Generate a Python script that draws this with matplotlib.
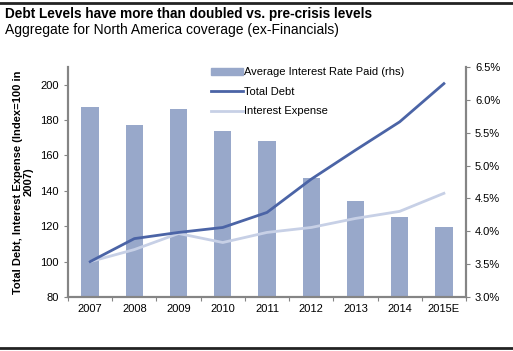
import numpy as np
import matplotlib.pyplot as plt
from matplotlib.lines import Line2D
from matplotlib.ticker import FuncFormatter

plt.rcParams['font.family'] = ['Liberation Sans', 'DejaVu Sans']

# data
years = ['2007', '2008', '2009', '2010', '2011', '2012', '2013', '2014', '2015E']
avg_rate = [5.89, 5.62, 5.86, 5.53, 5.37, 4.81, 4.46, 4.22, 4.07]   # % (rhs)
total_debt = [100, 113, 116.5, 119.3, 127.8, 146.6, 163, 179, 200.6]
interest_exp = [100, 106.8, 115.9, 110.8, 116.5, 119.3, 124.4, 128.4, 138.6]

bar_col = '#98A8CA'
debt_col = '#4B64A6'
int_col = '#C7D0E6'
axis_col = '#858585'

fig = plt.figure(figsize=(5.13, 3.51), dpi=100)
ax = fig.add_axes([68/513, 1 - 297/351, 398/513, 230/351])
ax2 = ax.twinx()

x = np.arange(len(years))

# bars on the right axis
ax2.bar(x, avg_rate, width=0.39, color=bar_col, zorder=1)
ax2.set_ylim(3.0, 6.5)
ax2.set_yticks(np.arange(3.0, 6.51, 0.5))
ax2.yaxis.set_major_formatter(FuncFormatter(lambda v, p: f'{v:.1f}%'))

# lines on the left axis (drawn above bars)
ax.set_zorder(ax2.get_zorder() + 1)
ax.patch.set_visible(False)
ax.plot(x, interest_exp, color=int_col, lw=2, zorder=3)
ax.plot(x, total_debt, color=debt_col, lw=2, zorder=4)
ax.set_ylim(80, 210)
ax.set_yticks(range(80, 201, 20))
ax.set_xlim(-0.5, len(years) - 0.5)

# x ticks between categories, labels centred
ax.set_xticks(np.arange(-0.5, len(years), 1.0))
ax.set_xticklabels([])
ax.set_xticks(x, minor=True)
ax.set_xticklabels(years, minor=True)
ax.tick_params(axis='x', which='minor', length=0, labelsize=8, pad=5)
ax.tick_params(axis='x', which='major', length=3, color=axis_col)
ax.tick_params(axis='y', labelsize=8, length=3, color=axis_col)
ax2.tick_params(axis='y', labelsize=8, length=3, color=axis_col)

for a in (ax, ax2):
    a.spines['top'].set_visible(False)
    for s in ('left', 'right', 'bottom'):
        a.spines[s].set_color(axis_col)
        a.spines[s].set_linewidth(1.5)

ax.set_ylabel('Total Debt, Interest Expense (Index=100 in\n2007)',
              fontsize=8, fontweight='bold', linespacing=1.0, labelpad=5)

handles = [plt.Rectangle((0, 0), 1, 1, color=bar_col),
           Line2D([], [], color=debt_col, lw=2),
           Line2D([], [], color=int_col, lw=2)]
labels = ['Average Interest Rate Paid (rhs)', 'Total Debt', 'Interest Expense']
fig.legend(handles, labels, loc='upper left', bbox_to_anchor=(207/513, 1 - 63/351),
           frameon=False, fontsize=8, handlelength=2.8, handleheight=0.6,
           handletextpad=0.1, labelspacing=0.85, borderaxespad=0)

# titles and rules
fig.text(5/513, 1 - 14/351, 'Debt Levels have more than doubled vs. pre-crisis levels',
         fontsize=9.8, fontweight='bold', va='center', ha='left')
fig.text(5/513, 1 - 30/351, 'Aggregate for North America coverage (ex-Financials)',
         fontsize=10, va='center', ha='left')
fig.add_artist(Line2D([0, 1], [1 - 3/351, 1 - 3/351], color='#222222', lw=2))
fig.add_artist(Line2D([0, 1], [1 - 348/351, 1 - 348/351], color='#222222', lw=2))

fig.savefig('out.png', dpi=100)
